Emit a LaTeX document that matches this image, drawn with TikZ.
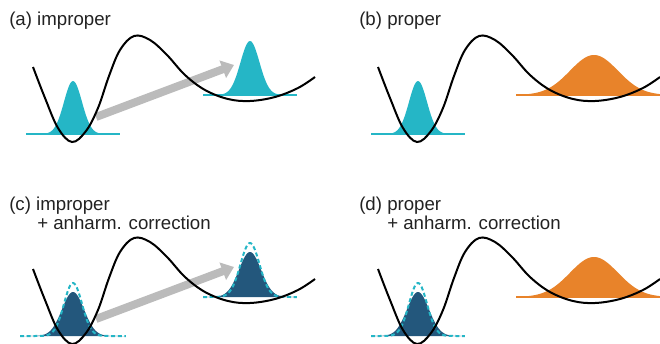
\documentclass[tikz,border=0pt]{standalone}
\usepackage{fontspec}
\setmainfont{Liberation Sans}
\usepackage{xcolor}
\usetikzlibrary{arrows.meta}

\definecolor{wellteal}{HTML}{25B6C6}
\definecolor{welldark}{HTML}{23577C}
\definecolor{wellorange}{HTML}{E8832A}
\definecolor{jumpgray}{HTML}{BBBBBB}
\definecolor{labelgray}{HTML}{222222}

% bell curve: centre, base line, height, sigma, half width
\newcommand{\wellbell}[5]{plot[domain=-1:1,samples=81]
  ({#1+#5*\x},{#2-#3*exp(-((#5*\x)*(#5*\x))/(2*#4*#4))})}

% double well, same for all four panels
\newcommand{\wellcurve}{plot[smooth,tension=0.6] coordinates {
  (33,67) (45,98) (58,128) (72,142) (86,131) (98,108) (109,76)
  (120,50) (134,36) (150,40) (167,55) (185,75) (205,90) (228,99)
  (250,101) (275,97) (298,88) (315,77)}}

\tikzset{
  pot/.style={line width=1.5pt, black},
  zerolevel/.style={line width=1.5pt},
  ghost/.style={wellteal, line width=1.5pt, dash pattern=on 3pt off 2pt},
  jump/.style={jumpgray, line width=6pt,
    -{Triangle[length=9pt,width=13.5pt]}},
  tag/.style={anchor=base west, inner sep=0pt, text=labelgray,
    font=\fontsize{14}{16}\selectfont}
}

\begin{document}
\begin{tikzpicture}[x=0.75pt,y=-0.75pt]
\useasboundingbox (0,0) rectangle (660,343);
\clip (0,0) rectangle (660,343);

% Etiquetas
\node[tag] (tag-a) at (9,25) {(a) improper};
\node[tag] (tag-b) at (359,25) {(b) proper};
\node[tag] (tag-c) at (9,210) {(c) improper};
\node[tag] (tag-c2) at (37,229) {+ anharm. correction};
\node[tag] (tag-d) at (359,210) {(d) proper};
\node[tag] (tag-d2) at (387,229) {+ anharm. correction};

% (a) improper
\begin{scope}
\coordinate (a-from) at (96,117);
\coordinate (a-to) at (234,65);
\draw[jump] (a-from) -- (a-to);
\draw[zerolevel, wellteal] (26,134) -- (120,134);
\fill[wellteal] \wellbell{73}{134}{53}{9}{47} -- cycle;
\draw[zerolevel, wellteal] (203,95) -- (297,95);
\fill[wellteal] \wellbell{250}{95}{54}{9.5}{47} -- cycle;
\draw[pot] \wellcurve;
\end{scope}

% (b) proper
\begin{scope}[shift={(345,0)}]
\draw[zerolevel, wellteal] (26,134) -- (120,134);
\fill[wellteal] \wellbell{73}{134}{53}{9}{47} -- cycle;
\draw[zerolevel, wellorange] (171,95) -- (327,95);
\fill[wellorange] \wellbell{249}{95}{40}{24}{78} -- cycle;
\draw[pot] \wellcurve;
\end{scope}

% (c) improper + anharm. correction
\begin{scope}[shift={(0,202)}]
\coordinate (c-from) at (96,117);
\coordinate (c-to) at (234,65);
\draw[jump] (c-from) -- (c-to);
\fill[welldark] \wellbell{73}{134}{44}{11}{53} -- cycle;
\draw[ghost] \wellbell{73}{134}{53}{9}{53};
\fill[welldark] \wellbell{250}{95}{45}{11}{47} -- cycle;
\draw[ghost] \wellbell{250}{95}{54}{9.5}{47};
\draw[pot] \wellcurve;
\end{scope}

% (d) proper + anharm. correction
\begin{scope}[shift={(345,202)}]
\fill[welldark] \wellbell{73}{134}{44}{11}{47} -- cycle;
\draw[ghost] \wellbell{73}{134}{53}{9}{47};
\draw[zerolevel, wellorange] (171,95) -- (327,95);
\fill[wellorange] \wellbell{249}{95}{40}{24}{78} -- cycle;
\draw[pot] \wellcurve;
\end{scope}

\end{tikzpicture}
\end{document}
